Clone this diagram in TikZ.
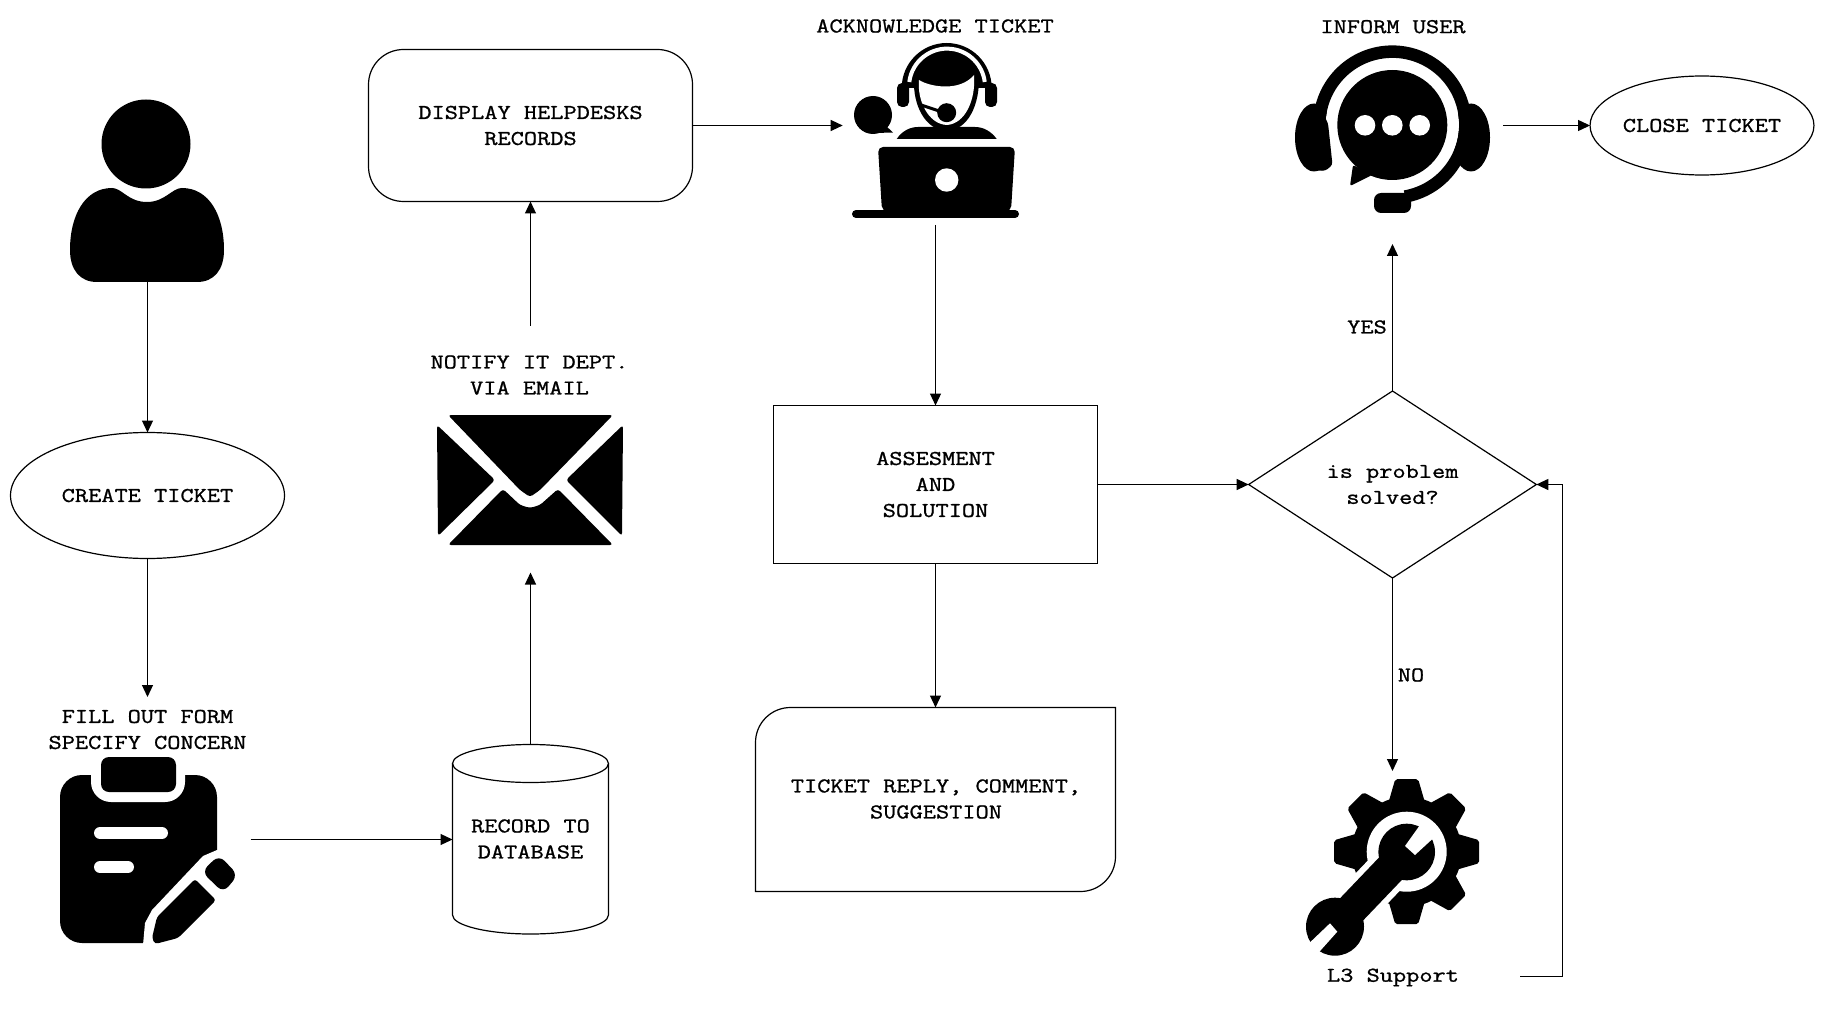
\documentclass[tikz,border=0pt]{standalone}
\usepackage{fontspec}
\usepackage{tikz}
\usetikzlibrary{calc}
\usetikzlibrary{arrows.meta}
\usetikzlibrary{shapes.geometric}
\newfontfamily\lblfont{Latin Modern Mono}[FakeStretch=1.22,FakeBold=1.1]
\tikzset{
    lbl/.style={font=\lblfont\fontsize{21}{26}\selectfont,align=center,inner sep=0pt,outer sep=0pt},
    box/.style={lbl,draw,line width=1.2pt},
    conn/.style={line width=1.2pt,-{Triangle[length=12pt,width=11pt]}}
}
\begin{document}
\begin{tikzpicture}[x=1pt,y=-1pt]
    \useasboundingbox (0,0) rectangle (1824,1011);

    % user
    \fill (146,144) circle (44.5);
    \fill (70,250) .. controls (70,215) and (85,188) .. (112,188) .. controls (122,188) and (128,202) .. (147,202) .. controls (165,202) and (172,188) .. (182,188) .. controls (209,188) and (224,215) .. (224,250) .. controls (224,270) and (214,282) .. (197,282) -- (97,282) .. controls (80,282) and (70,270) .. (70,250) -- cycle;
    \coordinate (userfoot) at (147.5,282);

    \node[box,ellipse,minimum width=274,minimum height=126] (create) at(147.5,495.5) {CREATE TICKET};
    \node[lbl] (form) at(147.5,729.5) {FILL OUT FORM\\SPECIFY CONCERN};
    \coordinate (formtop) at (147.5,697);

    % clipboard
    \fill[rounded corners=22pt] (60,775) rectangle (217,943);
    \fill[white,rounded corners=20pt] (91,750) rectangle (185,802);
    \fill[rounded corners=8pt] (101,757) rectangle (176,792);
    \draw[white,line width=12pt,line cap=round] (100,833) -- (162,833);
    \draw[white,line width=12pt,line cap=round] (100,867) -- (128,867);
    \fill[white] (225,850) -- (217,850) -- (203,856) -- (152,910) -- (145,923) -- (143,945) -- (225,945) -- cycle;
    \fill[rounded corners=3pt] (195,879) -- (216,900) -- (178,938) -- (155,944) -- (152,938) -- (157,917) -- cycle;
    \fill[rounded corners=8pt] (201.7,871.7) -- (219,855) -- (238,875) -- (223.3,892.7) -- cycle;
    \coordinate (formout) at (250.7,839.5);

    % database
    \node[lbl,minimum width=156,minimum height=189.5] (db) at(530.5,839) {RECORD TO\\DATABASE};
    \draw[line width=1.2pt] (452.5,763.5) arc[start angle=180,end angle=540,x radius=78,y radius=19];
    \draw[line width=1.2pt] (452.5,763.5) -- (452.5,915) arc[start angle=180,end angle=0,x radius=78,y radius=19] -- (608.5,763.5);

    % envelope
    \fill[rounded corners=3pt] (448,415) -- (613,415) -- (540,490) -- (530,497) -- (520,490) -- cycle;
    \fill[rounded corners=3pt] (437,425) -- (495,480) -- (438,536) -- cycle;
    \fill[rounded corners=3pt] (623,425) -- (566,480) -- (622,536) -- cycle;
    \fill[rounded corners=3pt] (448,545) -- (503,489) -- (520,505) -- (530,508) -- (540,505) -- (558,489) -- (613,545) -- cycle;
    \coordinate (mailin) at (530.5,572.5);
    \coordinate (mailout) at (530.5,325.7);

    \node[lbl] (notify) at(529.5,375) {NOTIFY IT DEPT.\\VIA EMAIL};
    \node[box,rectangle,rounded corners=35pt,minimum width=324,minimum height=152] (display) at(530.5,125.5) {DISPLAY HELPDESKS\\RECORDS};

    % agent
    \node[lbl] (ack) at(935,26) {ACKNOWLEDGE TICKET};
    \fill (873,115) circle (19);
    \fill (885,125) -- (893,132.5) -- (875,133) -- cycle;
    \fill (896.7,139) .. controls (902,131) and (910,127) .. (918,127) -- (975,127) .. controls (983,127) and (991,131) .. (996.7,139) -- cycle;
    \fill (901.7,88) arc[start angle=180,end angle=360,radius=45] -- cycle;
    \draw[white,line width=4pt] (909.3,82) arc[start angle=187,end angle=353,radius=38];
    \fill[rounded corners=5pt] (897,83) rectangle (909,107);
    \fill[rounded corners=5pt] (985,83) rectangle (997,107);
    \fill (914,80) .. controls (913,105) and (925,130) .. (946.7,131) .. controls (968,130) and (980,105) .. (979,75) -- cycle;
    \fill[white] (919,80) .. controls (930,87) and (960,92) .. (974,75) .. controls (976,100) and (965,124) .. (946.7,125) .. controls (928,124) and (917,100) .. (919,80) -- cycle;
    \draw[line width=3pt] (921,105) -- (942,112);
    \fill (946.7,112.7) circle (9.5);
    \fill[rounded corners=5pt] (882,211) -- (878,147) -- (1015,147) -- (1011,211) -- cycle;
    \draw[line width=8pt,line cap=round] (856,214) -- (1015,214);
    \fill[white] (946.7,180) circle (11.7);
    \coordinate (agentin) at (842.7,125.5);
    \coordinate (agentout) at (935.5,225);

    \node[box,rectangle,minimum width=324,minimum height=158] (assess) at(935.5,484.5) {ASSESMENT\\AND\\SOLUTION};
    \node[lbl] (replytxt) at(936,799) {TICKET REPLY, COMMENT,\\SUGGESTION};
    \node[rectangle,minimum width=360,minimum height=184,inner sep=0pt,outer sep=0pt] (reply) at(935.5,799.5) {};
    \draw[line width=1.2pt,rounded corners=35pt] (reply.west) -- (reply.north west) [sharp corners] -- (reply.north east) -- (reply.east) [rounded corners=35pt] -- (reply.south east) [sharp corners] -- (reply.south) -- (reply.south west) -- cycle;

    \node[box,diamond,shape aspect=1.54,minimum width=287.7,minimum height=187] (solved) at(1392.5,484.5) {is problem\\solved?};

    % inform user
    \node[lbl] (inform) at(1393,26.7) {INFORM USER};
    \fill (1314,137.5) ellipse (19 and 34);
    \fill (1471,137.5) ellipse (19 and 34);
    \fill[white] (1392.3,125) circle (66.7);
    \draw[line width=12.5pt] (1319.6,131) arc[start angle=175,end angle=440,radius=73];
    \fill[rounded corners=3pt] (1318,105) -- (1328,123) -- (1332.5,165) -- (1325,171) -- (1312,170) -- cycle;
    \fill (1392.3,125) circle (55);
    \fill[rounded corners=2pt] (1353,165) -- (1350,186) -- (1372,175) -- cycle;
    \foreach \dotx in {1365,1392.3,1419.7}
        \fill[white] (\dotx,125.3) circle (10.3);
    \fill[rounded corners=7pt] (1374,193) rectangle (1411,213);
    \coordinate (informin) at (1392.5,244);
    \coordinate (informout) at (1503.3,125.5);

    \node[box,ellipse,minimum width=223,minimum height=99] (close) at(1702,125.5) {CLOSE TICKET};

    % gear and wrench
    \fill (1406.7,851.7) circle (55);
    \foreach \toothang in {0,45,...,315}
        \fill[shift={(1406.7,851.7)},rotate=\toothang,rounded corners=2pt] (50,-18) -- (72.5,-11.5) -- (72.5,11.5) -- (50,18) -- cycle;
    \fill[white] (1406.7,851.7) circle (40);
    \draw[white,line width=44pt] (1406.7,851.7) -- (1335,926.7);
    \draw[line width=32pt] (1406.7,851.7) -- (1335,926.7);
    \fill (1406.7,852) circle (28.3);
    \fill (1335,926.7) circle (29);
    \fill[white] (1405,846) -- (1415,855) -- (1440,832) -- (1425,818) -- cycle;
    \fill[white] (1330,923.3) -- (1337.3,931.7) -- (1312,960) -- (1302,950) -- cycle;
    \coordinate (gearin) at (1392.5,771);

    \node[lbl] (support) at(1393,977.5) {L3 Support};
    \coordinate (supportout) at (1520,976.5);
    \coordinate (backup) at (1562.5,976.5);

    \draw[conn] (userfoot) -- (create.north);
    \draw[conn] (create.south) -- (formtop);
    \draw[conn] (formout) -- (db.west |- formout);
    \draw[conn] (db.north) -- (mailin);
    \draw[conn] (mailout) -- (display.south);
    \draw[conn] (display.east |- agentin) -- (agentin);
    \draw[conn] (agentout) -- (agentout |- assess.north);
    \draw[conn] (assess.east) -- (solved.west);
    \draw[conn] (assess.south) -- (reply.north);
    \draw[conn] (solved.north) -- (informin);
    \draw[conn] (solved.south) -- (gearin);
    \draw[conn] (informout) -- (close.west);
    \draw[conn] (supportout) -- (backup) |- (solved.east);

    \node[lbl] (yes) at(1367,327) {YES};
    \node[lbl] (no) at(1411,675) {NO};
\end{tikzpicture}
\end{document}
